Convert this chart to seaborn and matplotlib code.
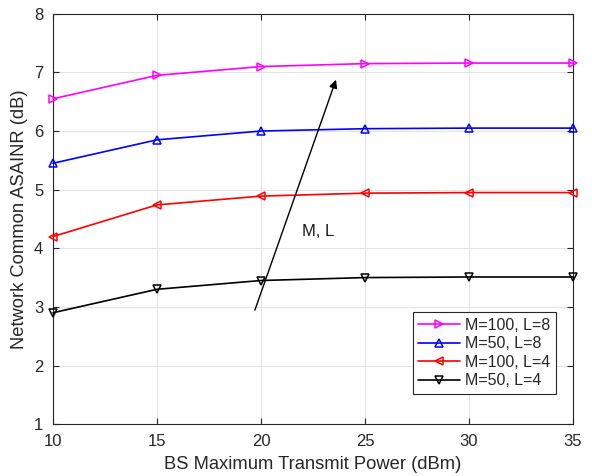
import matplotlib
matplotlib.use("Agg")
import matplotlib.pyplot as plt
import seaborn as sns
import numpy as np
import pandas as pd

power = [10, 15, 20, 25, 30, 35]
labels = ["M=100, L=8", "M=50, L=8", "M=100, L=4", "M=50, L=4"]
asainr_m100_l8 = [6.55, 6.95, 7.10, 7.15, 7.16, 7.16]
asainr_m50_l8 = [5.45, 5.85, 6.00, 6.04, 6.05, 6.05]
asainr_m100_l4 = [4.20, 4.74, 4.89, 4.94, 4.95, 4.95]
asainr_m50_l4 = [2.90, 3.30, 3.45, 3.50, 3.51, 3.51]

colors = ["#ff00ff", "#0000ff", "#ff0000", "#000000"]
markers = [">", "^", "<", "v"]

sns.set_style("whitegrid")
plt.rcParams['font.family'] = ['Liberation Sans', 'DejaVu Sans']

df = pd.DataFrame({
    "power": power * 4,
    "value": asainr_m100_l8 + asainr_m50_l8 + asainr_m100_l4 + asainr_m50_l4,
    "case": [l for l in labels for _ in power],
})

fig = plt.figure(figsize=(5.92, 4.76), dpi=100)
ax = fig.add_axes([0.0895, 0.109, 0.8785, 0.862])

sns.lineplot(data=df, x="power", y="value", hue="case", style="case",
             hue_order=labels, style_order=labels,
             palette=colors, markers=markers, dashes=False,
             markersize=6, markeredgewidth=1.1,
             linewidth=1.2, ax=ax)
for line in ax.lines:
    line.set_markeredgecolor(line.get_color())
    line.set_markerfacecolor("none")
    line.set_clip_on(False)
    line.set_zorder(3)

# arrow with annotation
ax.annotate("", xy=(23.65, 6.92), xytext=(19.66, 2.9),
            arrowprops=dict(arrowstyle="-|>", color="black", lw=1.0,
                            mutation_scale=12))
ax.text(21.97, 4.28, "M, L", fontsize=12, va="center", ha="left",
        color="#1a1a1a")

ax.set_xlim(10, 35)
ax.set_ylim(1, 8)
ax.set_xticks(power)
ax.set_yticks(range(1, 9))
ax.set_xlabel("BS Maximum Transmit Power (dBm)", fontsize=13.2,
              color="#262626", labelpad=5)
ax.set_ylabel("Network Common ASAINR (dB)", fontsize=13.2,
              color="#262626", labelpad=4)
ax.tick_params(labelsize=12, colors="#262626", direction="in", length=4,
               top=True, right=True, bottom=True, left=True, width=0.8)
ax.tick_params(axis="x", pad=7)
ax.tick_params(axis="y", pad=7)
ax.grid(True, color="#e3e3e3", linewidth=0.8)
for s in ax.spines.values():
    s.set_color("#262626")
    s.set_linewidth(0.8)

leg = ax.legend(loc="upper left", bbox_to_anchor=(0.692, 0.273),
                fontsize=11.5, frameon=True, fancybox=False,
                edgecolor="#262626", handlelength=2.6, borderpad=0.35,
                labelspacing=0.22, handletextpad=0.3, borderaxespad=0)
leg.get_frame().set_linewidth(0.8)
leg.get_frame().set_alpha(1)
for h in leg.legend_handles:
    h.set_markerfacecolor("none")
    h.set_markeredgecolor(h.get_color())

fig.savefig("out.png", dpi=100)
